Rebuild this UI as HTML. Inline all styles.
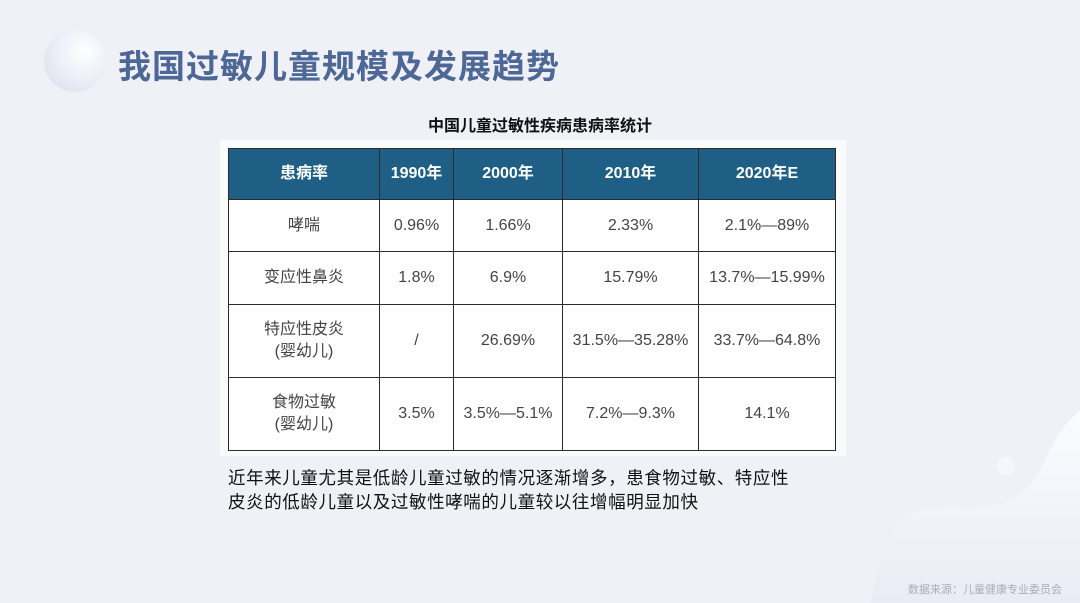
<!DOCTYPE html>
<html><head><meta charset="utf-8">
<style>
html,body{margin:0;padding:0}
body{width:1080px;height:603px;position:relative;overflow:hidden;background:#eff1f7;font-family:"Liberation Sans","Noto Sans CJK SC",sans-serif}
.abs{position:absolute}
#title{left:118px;top:40px;font-size:33px;font-weight:bold;color:#4d6796;letter-spacing:1px;white-space:nowrap}
#circle{left:44px;top:30px;width:62px;height:62px;border-radius:50%;background:radial-gradient(circle at 65% 35%,#ffffff 0%,#eef0f8 45%,#d7dcec 100%)}
#tablebg{left:220px;top:140px;width:626px;height:316px;background:#fafbfd}
#subtitle{left:300px;top:112px;width:480px;text-align:center;font-size:16px;font-weight:bold;color:#111}
table{position:absolute;left:228px;top:148px;border-collapse:collapse;background:#fff}
td,th{border:1.5px solid #2b2b2b;text-align:center;font-size:16px;color:#444;padding:0;line-height:22px}
th{background:#1f5f85;color:#fff;font-weight:bold;font-size:16px}
#note{left:228px;top:466px;font-size:17.5px;letter-spacing:0.6px;color:#111;line-height:24px;width:640px;white-space:nowrap}
#source{left:908px;top:581px;font-size:11px;color:#a9adb8;white-space:nowrap}
#wave{left:0;top:0}
</style></head><body>
<svg id="wave" class="abs" width="1080" height="603">
<defs><linearGradient id="g" x1="0" y1="0" x2="0" y2="1"><stop offset="0" stop-color="#fbfcff"/><stop offset="1" stop-color="#e9ecf4"/></linearGradient></defs>
<path d="M870 603 C880 560 890 520 920 510 C960 500 1010 525 1040 470 C1060 430 1060 430 1080 410 L1080 603 Z" fill="url(#g)"/>
<circle cx="1006" cy="466" r="9" fill="#f6f7fb"/>
</svg>
<div id="circle" class="abs"></div>
<div id="title" class="abs">我国过敏儿童规模及发展趋势</div>
<div id="tablebg" class="abs"></div>
<div id="subtitle" class="abs">中国儿童过敏性疾病患病率统计</div>
<table>
<tr style="height:51px">
<th style="width:150px">患病率</th>
<th style="width:73px">1990年</th>
<th style="width:108px">2000年</th>
<th style="width:135px">2010年</th>
<th style="width:136px">2020年E</th></tr>
<tr style="height:52px"><td>哮喘</td><td>0.96%</td><td>1.66%</td><td>2.33%</td><td>2.1%—89%</td></tr>
<tr style="height:53px"><td>变应性鼻炎</td><td>1.8%</td><td>6.9%</td><td>15.79%</td><td>13.7%—15.99%</td></tr>
<tr style="height:73px"><td>特应性皮炎<br>(婴幼儿)</td><td>/</td><td>26.69%</td><td>31.5%—35.28%</td><td>33.7%—64.8%</td></tr>
<tr style="height:73px"><td>食物过敏<br>(婴幼儿)</td><td>3.5%</td><td>3.5%—5.1%</td><td>7.2%—9.3%</td><td>14.1%</td></tr>
</table>
<div id="note" class="abs">近年来儿童尤其是低龄儿童过敏的情况逐渐增多，患食物过敏、特应性<br>皮炎的低龄儿童以及过敏性哮喘的儿童较以往增幅明显加快</div>
<div id="source" class="abs">数据来源：儿童健康专业委员会</div>
</body></html>
